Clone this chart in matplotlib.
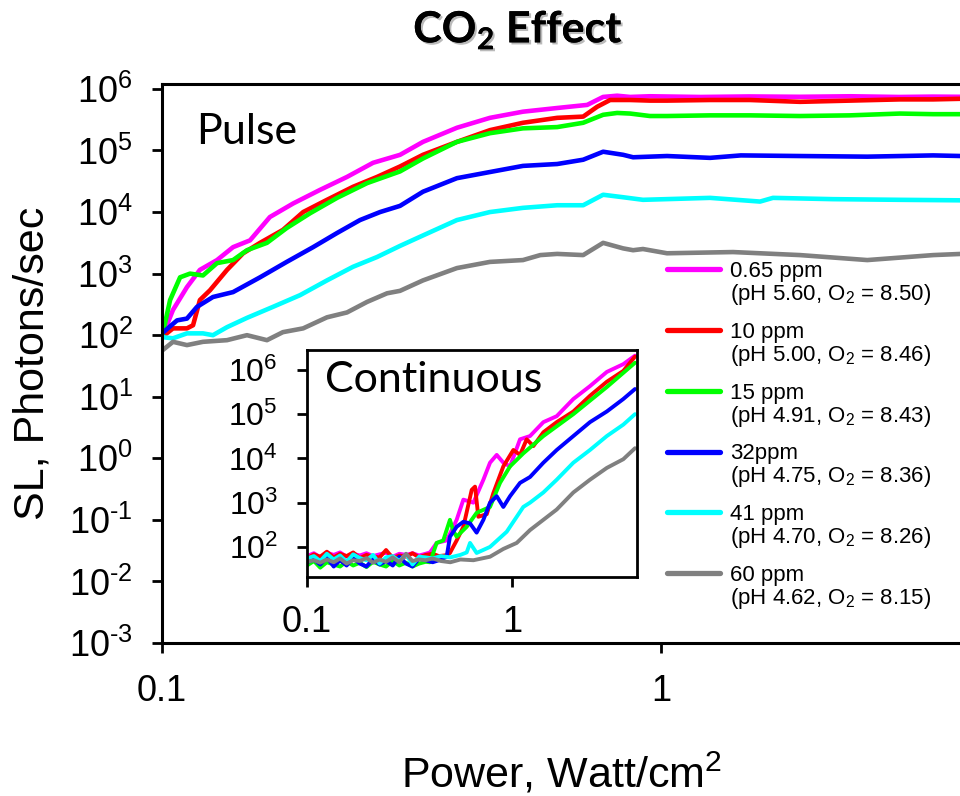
import matplotlib
matplotlib.use("Agg")
import matplotlib.pyplot as plt
from matplotlib import patheffects
from matplotlib.ticker import FixedLocator, FixedFormatter, NullLocator

plt.rcParams['font.family'] = ['Liberation Sans', 'DejaVu Sans']
plt.rcParams['mathtext.fontset'] = 'custom'
plt.rcParams['mathtext.rm'] = 'Liberation Sans'
plt.rcParams['mathtext.it'] = 'Liberation Sans:italic'
plt.rcParams['mathtext.bf'] = 'Lato:bold'

# ---------------- series description ----------------
conc_labels = ['0.65 ppm', '10 ppm', '15 ppm', '32ppm', '41 ppm', '60 ppm']
cond_labels = ['(pH 5.60, O$_2$ = 8.50)', '(pH 5.00, O$_2$ = 8.46)',
               '(pH 4.91, O$_2$ = 8.43)', '(pH 4.75, O$_2$ = 8.36)',
               '(pH 4.70, O$_2$ = 8.26)', '(pH 4.62, O$_2$ = 8.15)']
colors = ['#FF00FF', '#FF0000', '#00FF00', '#0000FF', '#00FFFF', '#808080']

# ---------------- pulse excitation (main panel) ----------------
pulse_x_065 = [0.1, 0.1052, 0.1122, 0.1191, 0.1289, 0.1388, 0.1501, 0.1645, 0.1832, 0.2073,
               0.2348, 0.2648, 0.2999, 0.3334, 0.3899, 0.4541, 0.5289, 0.6193, 0.7112, 0.7655,
               0.8166, 0.867, 0.95, 1.2, 1.5, 1.9, 2.4, 3.0, 3.5, 4.0]
pulse_y_065 = [93, 257, 603, 1150, 1660, 2690, 3470, 8300, 13800, 22900,
               37200, 63100, 85000, 138000, 234000, 339000, 427000, 490000, 550000, 741000,
               776000, 741000, 760000, 740000, 755000, 745000, 760000, 740000, 750000, 745000]

pulse_x_10 = [0.1, 0.1052, 0.1122, 0.1154, 0.1191, 0.1248, 0.1350, 0.1454, 0.1572, 0.1747,
              0.1918, 0.2141, 0.2414, 0.2697, 0.2999, 0.3334, 0.3899, 0.4541, 0.5289, 0.6193,
              0.6982, 0.7447, 0.7907, 0.867, 0.95, 1.028, 1.254, 1.507, 1.899, 2.39,
              3.01, 3.51, 4.0]
pulse_y_10 = [93, 129, 129, 145, 372, 537, 1150, 2140, 3160, 5130,
              10000, 15800, 25700, 37200, 55000, 85100, 138000, 214000, 282000, 339000,
              355000, 513000, 661000, 661000, 646000, 646000, 661000, 661000, 617000, 646000,
              676000, 676000, 692000]

pulse_x_15 = [0.1, 0.1038, 0.1087, 0.1138, 0.1208, 0.1289, 0.1388, 0.1480, 0.1623, 0.1778,
              0.1980, 0.2243, 0.2576, 0.2999, 0.3334, 0.3899, 0.4541, 0.5289, 0.6193, 0.6982,
              0.7655, 0.8166, 0.867, 0.95, 1.028, 1.254, 1.507, 1.899, 2.39, 3.01,
              3.51, 4.0]
pulse_y_15 = [93, 372, 871, 1000, 933, 1480, 1660, 2400, 3160, 5500,
              9550, 17000, 29500, 45700, 74100, 138000, 191000, 229000, 240000, 282000,
              380000, 407000, 398000, 363000, 363000, 372000, 372000, 363000, 372000, 398000,
              389000, 389000]

pulse_x_32 = [0.1, 0.1072, 0.1122, 0.1175, 0.1265, 0.1388, 0.1572, 0.1778, 0.2008, 0.2243,
              0.2493, 0.2735, 0.2999, 0.3334, 0.3899, 0.4541, 0.5289, 0.6193, 0.6982, 0.7655,
              0.8395, 0.879, 1.028, 1.254, 1.445, 1.899, 2.59, 3.51, 4.0]
pulse_y_32 = [107, 174, 186, 288, 417, 501, 871, 1550, 2690, 4570,
              7410, 10000, 12600, 21400, 35500, 44700, 56200, 60300, 70800, 95500,
              85100, 77600, 81300, 75900, 83200, 81300, 79400, 83200, 81300]

pulse_x_41 = [0.1, 0.1052, 0.1122, 0.1208, 0.1265, 0.1350, 0.1480, 0.1668, 0.1891, 0.2141,
              0.2414, 0.2697, 0.2999, 0.3334, 0.3899, 0.4541, 0.5289, 0.6193, 0.6982, 0.7655,
              0.8395, 0.920, 1.254, 1.579, 1.676, 2.21, 3.01, 4.0]
pulse_y_41 = [93, 89, 107, 107, 100, 135, 191, 288, 447, 776,
              1290, 1860, 2820, 4170, 7410, 10000, 11700, 12900, 12900, 19100,
              17400, 15800, 17000, 14800, 17000, 16200, 15800, 15500]

pulse_x_60 = [0.1, 0.1052, 0.1122, 0.1208, 0.1350, 0.1480, 0.1623, 0.1747, 0.1918, 0.2141,
              0.2348, 0.2576, 0.2825, 0.2999, 0.3334, 0.3899, 0.4541, 0.5289, 0.5728, 0.6193,
              0.6982, 0.7655, 0.8395, 0.879, 0.920, 1.028, 1.394, 1.899, 2.59, 3.51, 4.0]
pulse_y_60 = [56, 78, 69, 78, 83, 100, 83, 112, 129, 195,
              234, 347, 479, 525, 776, 1230, 1550, 1660, 2000, 2090,
              2000, 3160, 2570, 2400, 2510, 2140, 2240, 2000, 1660, 2000, 2090]

# ---------------- continuous excitation (inset) ----------------
cont_base_x = [0.100, 0.108, 0.116, 0.125, 0.135, 0.145, 0.156, 0.168, 0.181, 0.195,
               0.210, 0.226, 0.243, 0.262, 0.282, 0.304, 0.327, 0.352, 0.379]

cont_x_065 = cont_base_x + [0.398, 0.429, 0.480, 0.537, 0.579, 0.648, 0.725, 0.781, 0.842, 0.907,
                            0.978, 1.094, 1.224, 1.422, 1.652, 1.991, 2.40, 2.90, 3.49, 3.98]
cont_y_065 = [62, 72, 58, 74, 66, 75, 60, 70, 64, 72, 62, 68, 74, 60, 70, 66, 72, 64, 70,
              75, 123, 140, 410, 1170, 1000, 3300, 8000, 12000, 8000,
              6600, 27000, 32000, 66000, 90000, 220000, 430000, 900000, 1350000, 2100000]

cont_x_10 = cont_base_x + [0.410, 0.440, 0.480, 0.498, 0.537, 0.579, 0.636, 0.660, 0.685, 0.753,
                           0.811, 0.907, 1.015, 1.094, 1.179, 1.271, 1.422, 1.652, 1.991, 2.40,
                           2.90, 3.49, 3.98]
cont_y_10 = [55, 68, 60, 78, 58, 70, 62, 75, 56, 66, 60, 58, 85, 56, 64, 60, 72, 58, 66,
             70, 62, 65, 73, 140, 285, 1950, 2300, 480, 550,
             1650, 6600, 15500, 12000, 27000, 19000, 39000, 66000, 115000, 260000,
             540000, 950000, 2000000]

cont_x_15 = cont_base_x + [0.398, 0.429, 0.462, 0.498, 0.517, 0.537, 0.601, 0.672, 0.781, 0.874,
                           0.978, 1.135, 1.422, 1.991, 2.90, 3.98]
cont_y_15 = [38, 48, 34, 45, 40, 36, 47, 38, 44, 35, 46, 40, 36, 48, 38, 44, 36, 42, 46,
             45, 123, 140, 410, 230, 170, 285, 590, 800, 2800,
             6600, 13000, 32000, 100000, 410000, 1450000]

cont_x_32 = cont_base_x + [0.410, 0.440, 0.480, 0.498, 0.537, 0.579, 0.624, 0.672, 0.725, 0.781,
                           0.842, 0.907, 0.978, 1.094, 1.224, 1.422, 1.652, 1.991, 2.40, 2.90,
                           3.49, 3.98]
cont_y_32 = [45, 52, 40, 58, 36, 50, 38, 56, 42, 36, 54, 40, 48, 38, 60, 42, 36, 55, 50,
             45, 50, 60, 170, 285, 370, 340, 210, 410, 1000,
             1400, 800, 1400, 2800, 3800, 8000, 15500, 32000, 66000, 115000,
             220000, 370000]

cont_x_41 = cont_base_x + [0.410, 0.450, 0.500, 0.560, 0.601, 0.624, 0.672, 0.781, 0.942, 1.135,
                           1.224, 1.422, 1.652, 1.991, 2.40, 2.90, 3.49, 3.98]
cont_y_41 = [55, 62, 48, 70, 52, 64, 46, 68, 56, 50, 66, 42, 58, 62, 48, 68, 40, 60, 58,
             55, 62, 58, 66, 75, 123, 73, 100, 220, 800,
             1000, 1700, 3300, 8000, 15500, 32000, 58000, 100000]

cont_x_60 = cont_base_x + [0.410, 0.450, 0.500, 0.560, 0.648, 0.781, 0.907, 1.054, 1.224, 1.422,
                           1.652, 1.991, 2.40, 2.90, 3.49, 3.98]
cont_y_60 = [46, 50, 44, 52, 45, 55, 42, 50, 48, 56, 44, 52, 46, 58, 45, 70, 48, 52, 50,
             55, 48, 45, 52, 50, 60, 90, 123, 240, 410,
             700, 1700, 3300, 6100, 9600, 17000]

pulse_series = [(pulse_x_065, pulse_y_065), (pulse_x_10, pulse_y_10), (pulse_x_15, pulse_y_15),
                (pulse_x_32, pulse_y_32), (pulse_x_41, pulse_y_41), (pulse_x_60, pulse_y_60)]
cont_series = [(cont_x_065, cont_y_065), (cont_x_10, cont_y_10), (cont_x_15, cont_y_15),
               (cont_x_32, cont_y_32), (cont_x_41, cont_y_41), (cont_x_60, cont_y_60)]

main_xticks = [0.1, 1]
main_yticks = [1e-3, 1e-2, 1e-1, 1e0, 1e1, 1e2, 1e3, 1e4, 1e5, 1e6]
main_ytick_exp = ['-3', '-2', '-1', '0', '1', '2', '3', '4', '5', '6']
inset_yticks = [1e2, 1e3, 1e4, 1e5, 1e6]
inset_ytick_exp = ['2', '3', '4', '5', '6']


def pow_label(e):
    if e.startswith('-'):
        return r'$\mathregular{10^{\text{-}%s}}$' % e[1:]
    return r'$\mathregular{10^{%s}}$' % e


W, H = 960, 796
fig = plt.figure(figsize=(W / 100, H / 100), dpi=100)

# ---------------- main axes ----------------
ax = fig.add_axes([162 / W, (H - 643) / H, 799.5 / W, (643 - 84) / H])
lines = []
for (xs, ys), c in zip(pulse_series, colors):
    ln, = ax.plot(xs, ys, color=c, lw=3.3, solid_joinstyle='round', solid_capstyle='round')
    lines.append(ln)
ax.set_xscale('log')
ax.set_yscale('log')
ax.set_xlim(0.1, 4.0)
ax.set_ylim(1e-3, 10 ** 6.08)
ax.xaxis.set_major_locator(FixedLocator(main_xticks))
ax.xaxis.set_major_formatter(FixedFormatter(['0.1', '1']))
ax.xaxis.set_minor_locator(NullLocator())
ax.yaxis.set_major_locator(FixedLocator(main_yticks))
ax.yaxis.set_major_formatter(FixedFormatter([pow_label(e) for e in main_ytick_exp]))
ax.yaxis.set_minor_locator(NullLocator())
ax.tick_params(axis='both', direction='out', length=7, width=2, color='black')
ax.tick_params(axis='y', labelsize=26, pad=14)
ax.tick_params(axis='x', labelsize=26, pad=15.5)
for s in ax.spines.values():
    s.set_linewidth(2.2)
ax.set_ylabel('SL, Photons/sec', fontsize=31, labelpad=12)
ax.set_xlabel('Power, Watt/cm$^2$', fontsize=31, labelpad=30)
ax.text(0.043, 0.915, 'Pulse', transform=ax.transAxes, fontsize=31,
        family=['Lato', 'DejaVu Sans'], va='center', ha='left')

# legend: concentration on the first line, conditions below it
leg = ax.legend(lines, conc_labels, loc='upper left', frameon=False, fontsize=16,
                bbox_to_anchor=(667 / W, 1 - 261 / H), bbox_transform=fig.transFigure,
                handlelength=2.4, handletextpad=0.45, labelspacing=1.79,
                borderpad=0, borderaxespad=0)
for ln in leg.get_lines():
    ln.set_linewidth(3.8)
for txt, sub in zip(leg.get_texts(), cond_labels):
    ax.annotate(sub, xy=(0, 0), xycoords=txt, xytext=(0, 0), textcoords='offset points',
                ha='left', va='top', fontsize=16, zorder=10, annotation_clip=False)

# ---------------- inset ----------------
ins = fig.add_axes([307 / W, (H - 577) / H, 330 / W, 227 / H])
for (xs, ys), c in zip(cont_series, colors):
    ins.plot(xs, ys, color=c, lw=2.8, solid_joinstyle='round', solid_capstyle='round')
ins.set_xscale('log')
ins.set_yscale('log')
ins.set_xlim(0.1, 4.07)
ins.set_ylim(10 ** 1.32, 10 ** 6.45)
ins.xaxis.set_major_locator(FixedLocator(main_xticks))
ins.xaxis.set_major_formatter(FixedFormatter(['0.1', '1']))
ins.xaxis.set_minor_locator(NullLocator())
ins.yaxis.set_major_locator(FixedLocator(inset_yticks))
ins.yaxis.set_major_formatter(FixedFormatter([pow_label(e) for e in inset_ytick_exp]))
ins.yaxis.set_minor_locator(NullLocator())
ins.tick_params(axis='both', direction='out', length=7, width=2, color='black')
ins.tick_params(axis='y', labelsize=23, pad=14)
ins.tick_params(axis='x', labelsize=26, pad=13)
for s in ins.spines.values():
    s.set_linewidth(2.0)
ins.text(0.055, 0.87, 'Continuous', transform=ins.transAxes, fontsize=31,
         family=['Lato', 'DejaVu Sans'], va='center', ha='left')

# ---------------- title ----------------
fig.text(518 / W, 1 - 30 / H, r'CO$_{\mathbf{2}}$ Effect', fontsize=31, fontweight='bold',
         family=['Lato', 'DejaVu Sans'], ha='center', va='center',
         path_effects=[patheffects.withSimplePatchShadow(offset=(1.5, -1.5),
                                                          shadow_rgbFace='0.55', alpha=0.6),
                       patheffects.Normal()])

fig.savefig('out.png', dpi=100)
